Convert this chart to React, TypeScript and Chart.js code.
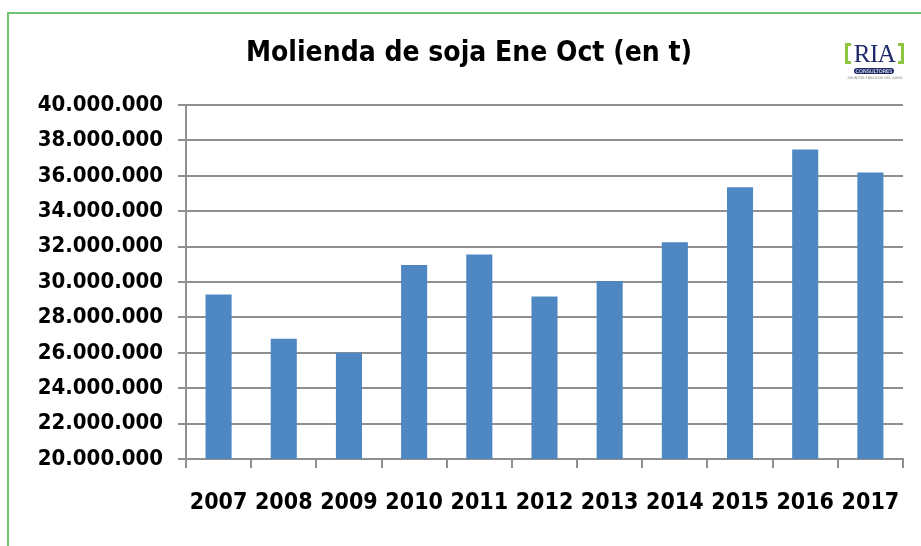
import React, { useEffect, useRef } from "react";
import { Chart, registerables } from "chart.js";

Chart.register(...registerables);

const titleText = "Molienda de soja Ene Oct (en t)";
const years = ["2007", "2008", "2009", "2010", "2011", "2012", "2013", "2014", "2015", "2016", "2017"];
const crushing = [29290000, 26790000, 26000000, 30960000, 31550000, 29180000, 30050000, 32250000, 35360000, 37480000, 36190000];
const yMin = 20000000;
const yMax = 40000000;
const yStep = 2000000;

const FONT = "'DejaVu Sans Condensed', 'DejaVu Sans', sans-serif";

function fmt(v: number): string {
  const s = Math.round(v).toString();
  return s.replace(/\B(?=(\d{3})+(?!\d))/g, ".");
}

export default function App() {
  const ref = useRef<HTMLCanvasElement | null>(null);

  useEffect(() => {
    document.body.style.margin = "0";
    const ctx = ref.current!.getContext("2d")!;
    const chart = new Chart(ctx, {
      type: "bar",
      data: {
        labels: years,
        datasets: [
          {
            data: crushing,
            backgroundColor: "#4f87c2",
            barPercentage: 0.4,
            categoryPercentage: 1,
          },
        ],
      },
      options: {
        animation: false,
        responsive: false,
        devicePixelRatio: 1,
        layout: { padding: { left: 0, right: 18, top: 105, bottom: 0 } },
        plugins: {
          legend: { display: false },
          tooltip: { enabled: false },
          title: { display: false },
        },
        scales: {
          x: {
            grid: {
              drawOnChartArea: false,
              drawTicks: true,
              tickLength: 9,
              color: "#8f8f8f",
              lineWidth: 2,
              offset: true,
            },
            border: { color: "#8f8f8f", width: 2 },
            ticks: {
              color: "#000",
              font: { family: FONT, size: 23, weight: "bold" },
              padding: 21,
              maxRotation: 0,
              autoSkip: false,
            },
            afterFit: (s: any) => {
              s.height = 87;
            },
          },
          y: {
            min: yMin,
            max: yMax,
            ticks: {
              stepSize: yStep,
              color: "#000",
              font: { family: FONT, size: 22, weight: "bold" },
              padding: 15,
              callback: (v: any) => fmt(Number(v)),
            },
            grid: {
              color: "#8f8f8f",
              lineWidth: 2,
              tickLength: 8,
            },
            border: { color: "#8f8f8f", width: 2 },
            afterFit: (s: any) => {
              s.width = 186;
            },
          },
        },
      },
    });
    return () => chart.destroy();
  }, []);

  return (
    <div style={{ position: "fixed", left: 0, top: 0, width: 921, height: 546, overflow: "hidden", background: "#fff" }}>
      <div
        style={{
          position: "absolute",
          left: 7,
          top: 12,
          width: 960,
          height: 600,
          border: "2px solid #72c472",
          boxSizing: "border-box",
        }}
      />
      <canvas ref={ref} width={921} height={546} style={{ position: "absolute", left: 0, top: 0 }} />
      <div
        style={{
          position: "absolute",
          left: 469,
          top: 35,
          transform: "translateX(-50%)",
          whiteSpace: "nowrap",
          fontFamily: FONT,
          fontWeight: "bold",
          fontSize: 28,
          lineHeight: "34px",
          color: "#000",
        }}
      >
        {titleText}
      </div>
      <div style={{ position: "absolute", left: 842, top: 40, width: 66, height: 42 }}>
        <div style={{ position: "absolute", left: 3, top: 3, width: 6, height: 21, borderLeft: "3px solid #8cc63f", borderTop: "3px solid #8cc63f", borderBottom: "3px solid #8cc63f", boxSizing: "border-box" }} />
        <div style={{ position: "absolute", left: 56, top: 3, width: 6, height: 21, borderRight: "3px solid #8cc63f", borderTop: "3px solid #8cc63f", borderBottom: "3px solid #8cc63f", boxSizing: "border-box" }} />
        <div
          style={{
            position: "absolute",
            left: 0,
            top: 1,
            width: 65,
            textAlign: "center",
            fontFamily: "'Liberation Serif', 'DejaVu Serif', serif",
            fontSize: 25,
            lineHeight: "25px",
            color: "#1f2a6b",
            letterSpacing: -0.5,
          }}
        >
          RIA
        </div>
        <div
          style={{
            position: "absolute",
            left: 12,
            top: 28,
            width: 40,
            height: 6,
            borderRadius: 3,
            background: "#1f2a6b",
            color: "#fff",
            fontFamily: "'DejaVu Sans', sans-serif",
            fontSize: 5,
            lineHeight: "6px",
            textAlign: "center",
            overflow: "hidden",
          }}
        >
          CONSULTORES
        </div>
        <div
          style={{
            position: "absolute",
            left: 0,
            top: 36,
            width: 66,
            color: "#777",
            fontFamily: "'DejaVu Sans', sans-serif",
            fontSize: 3.5,
            lineHeight: "4px",
            textAlign: "center",
            whiteSpace: "nowrap",
          }}
        >
          ASUNTOS PÚBLICOS DEL AGRO
        </div>
      </div>
    </div>
  );
}
